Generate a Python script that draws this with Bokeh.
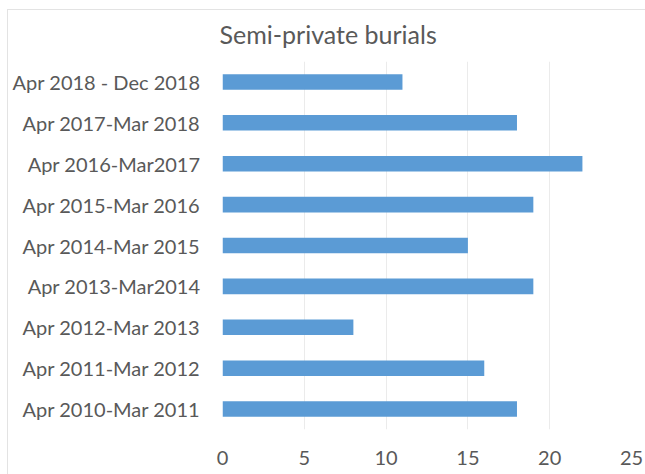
from bokeh.plotting import figure
from bokeh.models import FactorRange, Range1d, FixedTicker, ColumnDataSource
from bokeh.embed import file_html
from bokeh.resources import INLINE

# Data (bottom to top)
periods = [
    "Apr 2010-Mar 2011",
    "Apr 2011-Mar 2012",
    "Apr 2012-Mar 2013",
    "Apr 2013-Mar2014",
    "Apr 2014-Mar 2015",
    "Apr 2015-Mar 2016",
    "Apr 2016-Mar2017",
    "Apr 2017-Mar 2018",
    "Apr 2018 - Dec 2018",
]
burials = [18, 16, 8, 19, 15, 19, 22, 18, 11]
x_ticks = [0, 5, 10, 15, 20, 25]
chart_title = "Semi-private burials"

FONT = "Lato"
GREY = "#595959"

source = ColumnDataSource(data=dict(period=periods, value=burials))

p = figure(
    width=638, height=474,
    y_range=FactorRange(factors=periods, range_padding=0),
    x_range=Range1d(0, 25),
    output_backend="svg", toolbar_location=None,
    min_border_left=215, min_border_right=14,
    min_border_top=61, min_border_bottom=45,
    title=chart_title,
)

p.hbar(y="period", right="value", left=0, height=0.38, source=source,
       fill_color="#5B9BD5", line_color=None)

p.title.text_font = FONT
p.title.text_font_size = "25px"
p.title.text_font_style = "normal"
p.title.text_color = GREY
p.title.align = "left"
p.title.offset = -3
p.title.standoff = 26

p.outline_line_color = None
p.background_fill_color = "white"
p.border_fill_color = "white"
p.border_fill_alpha = 0
p.margin = (0, 0, 0, 7)
# faint chart-area border (top line at 9px, left line from 9px down)
p.styles = {
    "background": (
        "linear-gradient(#e3e3e3,#e3e3e3) 0 9px / 100% 1px no-repeat, "
        "linear-gradient(#e3e3e3,#e3e3e3) 0 9px / 1px 100% no-repeat, #ffffff"
    )
}

p.ygrid.grid_line_color = None
p.xgrid.grid_line_color = "#ebebeb"
p.xaxis.ticker = FixedTicker(ticks=x_ticks)

for ax in (p.xaxis, p.yaxis):
    ax.axis_line_color = None
    ax.major_tick_line_color = None
    ax.minor_tick_line_color = None
    ax.major_tick_out = 0
    ax.major_tick_in = 0
    ax.major_label_text_font = FONT
    ax.major_label_text_font_size = "20px"
    ax.major_label_text_color = GREY

p.yaxis.major_label_standoff = 22
p.xaxis.major_label_standoff = 21

open("out.html", "w").write(file_html(p, INLINE))
